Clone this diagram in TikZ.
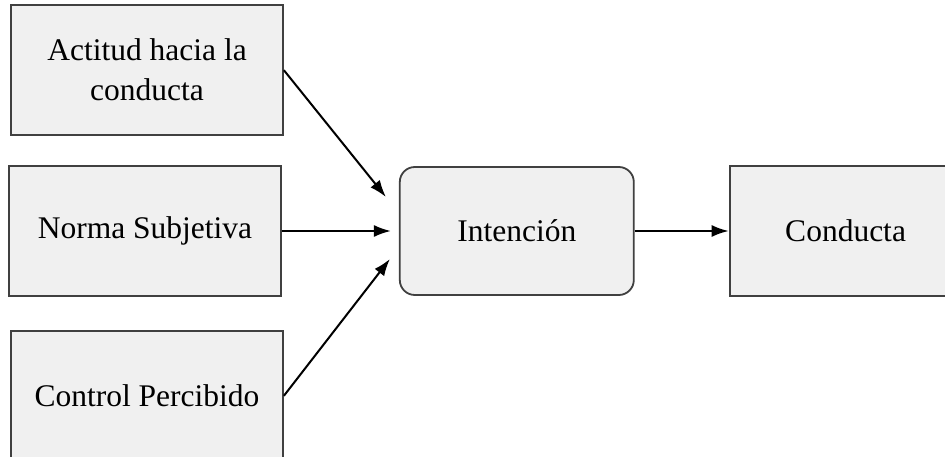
\documentclass[tikz,border=0pt]{standalone}
\usepackage{fontspec}
\setmainfont{Liberation Serif}
\usetikzlibrary{arrows.meta,positioning}

\begin{document}
\begin{tikzpicture}[
      x=1pt,y=-1pt,
      mybox/.style={
         rectangle,
         draw=black!75,
         fill=black!6,
         line width=1.8pt,
         inner sep=0pt,
         minimum width=272pt,
         minimum height=130pt,
         align=center,
         font=\fontsize{31.5}{40}\selectfont},
      myround/.style={mybox,rounded corners=15pt,minimum width=234pt,minimum height=128pt},
      myarrow/.style={-{Latex[length=17pt,width=12pt]},line width=2pt},
      node distance=31pt and 117pt
      ]
      \useasboundingbox (0,0) rectangle (945,457);
      \clip (0,0) rectangle (945,457);
      \node[mybox] (ns) at (145,231) {Norma Subjetiva};
      \node[mybox,above=29pt of ns,xshift=2pt] (ac) {Actitud hacia la\\conducta};
      \node[mybox,below=33pt of ns,xshift=2pt] (cp) {Control Percibido};
      \node[myround,right=of ns] (in) {Intención};
      \node[mybox,right=94pt of in,minimum width=232pt] (co) {Conducta};

    \foreach \i/\dx/\dy in {% start node/shift of the tip
      ac/-13/-34,
      ns/-8/0,
      cp/-9/28}
       \draw [myarrow] (\i.east) -- ([shift={(\dx,\dy)}]in.west);

\draw [myarrow] (in) -- (co);

    \end{tikzpicture}
\end{document}
